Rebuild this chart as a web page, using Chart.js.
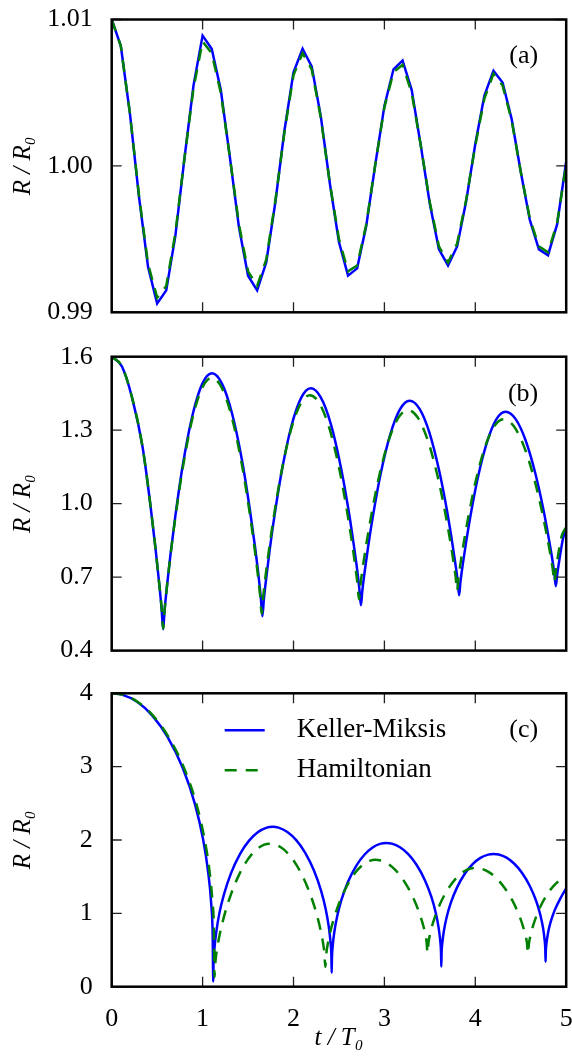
<!DOCTYPE html>
<html>
<head>
<meta charset="utf-8">
<script src="https://cdn.jsdelivr.net/npm/chart.js@4.4.1/dist/chart.umd.min.js"></script>
<style>
  html, body { margin: 0; padding: 0; background: #fff; }
  #wrap { position: relative; width: 572px; height: 1057px; }
  .panel { position: absolute; left: 0; width: 572px; }
</style>
</head>
<body>
<div id="wrap">
  <div class="panel" style="top:0px;height:330px"><canvas id="chartA" width="572" height="330"></canvas></div>
  <div class="panel" style="top:330px;height:330px"><canvas id="chartB" width="572" height="330"></canvas></div>
  <div class="panel" style="top:660px;height:397px"><canvas id="chartC" width="572" height="397"></canvas></div>
</div>
<script>
// tick labels
const xTicks = [0, 1, 2, 3, 4, 5];
const yTicksA = [0.99, 1.00, 1.01];
const yTicksB = [0.4, 0.7, 1.0, 1.3, 1.6];
const yTicksC = [0, 1, 2, 3, 4];

// panel (a): t / T0 and R / R0
const tA = [0, 0.1, 0.2, 0.3, 0.4, 0.5, 0.6, 0.7, 0.8, 0.9, 1.0, 1.1, 1.2, 1.3, 1.4, 1.5, 1.6, 1.7, 1.8, 1.9,
            2.0, 2.1, 2.2, 2.3, 2.4, 2.5, 2.6, 2.7, 2.8, 2.9, 3.0, 3.1, 3.2, 3.3, 3.4, 3.5, 3.6, 3.7, 3.8, 3.9,
            4.0, 4.1, 4.2, 4.3, 4.4, 4.5, 4.6, 4.7, 4.8, 4.9, 5.0];
const kmA = [1.0100, 1.0082, 1.0036, 0.9979, 0.9931, 0.9906, 0.9915, 0.9952, 1.0005, 1.0055, 1.0089, 1.0080, 1.0052,
             1.0006, 0.9958, 0.9925, 0.9915, 0.9934, 0.9975, 1.0024, 1.0064, 1.0080, 1.0068, 1.0034, 0.9988, 0.9948,
             0.9925, 0.9930, 0.9959, 1.0001, 1.0041, 1.0066, 1.0072, 1.0052, 1.0014, 0.9974, 0.9943, 0.9932, 0.9945,
             0.9976, 1.0015, 1.0048, 1.0065, 1.0057, 1.0032, 0.9996, 0.9963, 0.9943, 0.9939, 0.9960, 1.0003];
const hamA = [1.0100, 1.0082, 1.0036, 0.9980, 0.9933, 0.9910, 0.9918, 0.9954, 1.0005, 1.0053, 1.0085, 1.0077, 1.0050,
              1.0006, 0.9960, 0.9928, 0.9918, 0.9936, 0.9976, 1.0023, 1.0062, 1.0077, 1.0066, 1.0033, 0.9988, 0.9950,
              0.9928, 0.9932, 0.9960, 1.0001, 1.0040, 1.0064, 1.0069, 1.0050, 1.0014, 0.9975, 0.9945, 0.9934, 0.9947,
              0.9977, 1.0014, 1.0046, 1.0063, 1.0055, 1.0031, 0.9996, 0.9964, 0.9945, 0.9941, 0.9961, 1.0001];

// panel (b)
const tKmB = [0, 0.113, 0.226, 0.34, 0.424, 0.481, 0.521, 0.549, 0.566,
              0.582, 0.609, 0.646, 0.70, 0.78, 0.888, 0.995, 1.102,
              1.213, 1.324, 1.436, 1.519, 1.575, 1.614, 1.641, 1.658,
              1.674, 1.701, 1.738, 1.791, 1.871, 1.977, 2.084, 2.19,
              2.30, 2.411, 2.521, 2.604, 2.659, 2.698, 2.725, 2.742,
              2.758, 2.785, 2.822, 2.876, 2.956, 3.064, 3.171, 3.278,
              3.387, 3.496, 3.604, 3.686, 3.74, 3.778, 3.806, 3.822,
              3.837, 3.863, 3.899, 3.95, 4.026, 4.129, 4.231, 4.333,
              4.444, 4.554, 4.665, 4.748, 4.803, 4.842, 4.869, 4.886,
              4.902, 4.928, 4.965, 5.0];
const kmB = [1.6, 1.56, 1.43, 1.23, 1.00, 0.82, 0.68, 0.57, 0.487,
             0.565, 0.666, 0.790, 0.949, 1.153, 1.360, 1.488, 1.532,
             1.490, 1.368, 1.172, 0.978, 0.828, 0.710, 0.614, 0.540,
             0.609, 0.699, 0.810, 0.951, 1.133, 1.317, 1.432, 1.471,
             1.434, 1.325, 1.149, 0.977, 0.842, 0.737, 0.651, 0.585,
             0.647, 0.728, 0.827, 0.954, 1.117, 1.282, 1.385, 1.420,
             1.387, 1.289, 1.132, 0.977, 0.856, 0.762, 0.685, 0.626,
             0.682, 0.754, 0.843, 0.957, 1.103, 1.251, 1.344, 1.375,
             1.345, 1.258, 1.117, 0.978, 0.869, 0.785, 0.716, 0.663,
             0.713, 0.778, 0.858, 0.90];
const tHamB = [0, 0.113, 0.226, 0.34, 0.424, 0.481, 0.521, 0.549, 0.566,
               0.582, 0.609, 0.646, 0.70, 0.78, 0.886, 0.993, 1.10,
               1.21, 1.32, 1.43, 1.5125, 1.5675, 1.606, 1.6335, 1.65,
               1.666, 1.692, 1.7295, 1.7825, 1.862, 1.968, 2.074, 2.18,
               2.288, 2.396, 2.504, 2.585, 2.639, 2.677, 2.704, 2.72,
               2.736, 2.763, 2.801, 2.855, 2.936, 3.044, 3.152, 3.26,
               3.368, 3.476, 3.584, 3.665, 3.719, 3.757, 3.784, 3.80,
               3.815, 3.841, 3.8765, 3.9275, 4.004, 4.106, 4.208, 4.31,
               4.422, 4.534, 4.646, 4.73, 4.786, 4.8252, 4.853, 4.87,
               4.886, 4.911, 4.948, 5.0];
const hamB = [1.6, 1.56, 1.43, 1.23, 1.00, 0.82, 0.68, 0.575, 0.49,
              0.566, 0.665, 0.787, 0.943, 1.142, 1.345, 1.471, 1.514,
              1.474, 1.355, 1.164, 0.976, 0.830, 0.715, 0.622, 0.55,
              0.617, 0.703, 0.809, 0.945, 1.119, 1.296, 1.405, 1.443,
              1.408, 1.306, 1.141, 0.978, 0.852, 0.752, 0.672, 0.61,
              0.668, 0.742, 0.834, 0.951, 1.102, 1.255, 1.350, 1.382,
              1.351, 1.260, 1.114, 0.971, 0.859, 0.771, 0.700, 0.645,
              0.697, 0.765, 0.848, 0.954, 1.091, 1.230, 1.316, 1.345,
              1.317, 1.235, 1.104, 0.974, 0.873, 0.794, 0.730, 0.68,
              0.727, 0.79, 0.865, 0.905];

// panel (c)
const tKmC = [0, 0.112, 0.279, 0.447, 0.614, 0.782, 0.916, 1.005, 1.061, 1.095, 1.111, 1.117,
              1.120, 1.130, 1.150, 1.182, 1.235, 1.313, 1.411, 1.509, 1.607, 1.705, 1.77,
              1.835, 1.9325, 2.03, 2.1275, 2.225, 2.303, 2.355, 2.3875, 2.407, 2.4168, 2.42,
              2.423, 2.432, 2.45, 2.48, 2.528, 2.60, 2.69, 2.78, 2.87, 2.96, 3.02,
              3.0806, 3.1715, 3.2624, 3.3533, 3.4442, 3.5169, 3.5654, 3.5957, 3.6139, 3.623, 3.626,
              3.6289, 3.6375, 3.6547, 3.6834, 3.7293, 3.7982, 3.8843, 3.9704, 4.0565, 4.1426, 4.2,
              4.2573, 4.3433, 4.4292, 4.5151, 4.6011, 4.6699, 4.7157, 4.7444, 4.7615, 4.7701, 4.773,
              4.7758, 4.7842, 4.801, 4.829, 4.8738, 4.941, 5.0];
const kmC = [4.0, 3.982, 3.884, 3.696, 3.405, 2.981, 2.490, 2.012, 1.564, 1.125, 0.693, 0.07,
             0.308, 0.515, 0.741, 0.986, 1.258, 1.549, 1.808, 1.988, 2.106, 2.168, 2.18,
             2.169, 2.110, 1.999, 1.829, 1.585, 1.310, 1.054, 0.823, 0.609, 0.415, 0.19,
             0.390, 0.563, 0.753, 0.958, 1.187, 1.431, 1.648, 1.799, 1.898, 1.950, 1.96,
             1.951, 1.901, 1.807, 1.663, 1.456, 1.224, 1.006, 0.811, 0.630, 0.465, 0.275,
             0.448, 0.598, 0.763, 0.941, 1.139, 1.351, 1.539, 1.670, 1.756, 1.801, 1.81,
             1.802, 1.759, 1.676, 1.551, 1.370, 1.168, 0.978, 0.808, 0.650, 0.506, 0.34,
             0.481, 0.603, 0.738, 0.883, 1.044, 1.216, 1.34];
const tHamC = [0, 0.113, 0.2825, 0.452, 0.6215, 0.791, 0.9266, 1.017, 1.0735, 1.1074, 1.1244, 1.13,
               1.1422, 1.1605, 1.191, 1.2398, 1.313, 1.4045, 1.496, 1.5875, 1.679, 1.74,
               1.801, 1.8925, 1.984, 2.0755, 2.167, 2.2402, 2.289, 2.3195, 2.3378, 2.35,
               2.361, 2.3775, 2.405, 2.449, 2.515, 2.5975, 2.68, 2.7625, 2.845, 2.9,
               2.9575, 3.0438, 3.13, 3.2163, 3.3025, 3.3715, 3.4175, 3.4463, 3.4635, 3.475,
               3.4855, 3.5013, 3.5275, 3.5695, 3.6325, 3.7113, 3.79, 3.8688, 3.9475, 4.0,
               4.058, 4.145, 4.232, 4.319, 4.406, 4.4756, 4.522, 4.551, 4.5684, 4.58,
               4.5894, 4.6035, 4.627, 4.6646, 4.721, 4.7915, 4.862, 4.9325, 5.0];
const hamC = [4.0, 3.982, 3.885, 3.700, 3.414, 2.997, 2.513, 2.042, 1.601, 1.169, 0.743, 0.13,
              0.358, 0.525, 0.728, 0.976, 1.263, 1.535, 1.733, 1.866, 1.937, 1.95,
              1.938, 1.872, 1.749, 1.567, 1.316, 1.051, 0.822, 0.635, 0.481, 0.27,
              0.453, 0.587, 0.750, 0.949, 1.179, 1.397, 1.556, 1.662, 1.719, 1.73,
              1.721, 1.671, 1.578, 1.440, 1.251, 1.050, 0.877, 0.736, 0.619, 0.46,
              0.605, 0.712, 0.841, 0.999, 1.182, 1.355, 1.481, 1.566, 1.611, 1.62,
              1.611, 1.566, 1.480, 1.353, 1.179, 0.994, 0.834, 0.704, 0.597, 0.45,
              0.582, 0.678, 0.795, 0.938, 1.104, 1.260, 1.375, 1.451, 1.47];

const FONT = '"Liberation Serif", "DejaVu Serif", serif';
const BLUE = '#0000ff';
const GREEN = '#008000';

function pts(t, r) {
    return t.map((x, i) => ({ x: x, y: r[i] }));
}

// frame, inward ticks on all four sides, panel letter, optional legend
const framePlugin = {
    id: 'frame',
    afterDatasetsDraw(chart, args, opts) {
        const ctx = chart.ctx;
        const a = chart.chartArea;
        const xs = chart.scales.x;
        const ys = chart.scales.y;
        ctx.save();
        ctx.strokeStyle = '#222';
        ctx.lineWidth = 1.3;
        const tl = 10;
        xs.ticks.forEach(tk => {
            const px = xs.getPixelForValue(tk.value);
            ctx.beginPath();
            ctx.moveTo(px, a.bottom); ctx.lineTo(px, a.bottom - tl);
            ctx.moveTo(px, a.top); ctx.lineTo(px, a.top + tl);
            ctx.stroke();
        });
        ys.ticks.forEach(tk => {
            const py = ys.getPixelForValue(tk.value);
            ctx.beginPath();
            ctx.moveTo(a.left, py); ctx.lineTo(a.left + tl, py);
            ctx.moveTo(a.right, py); ctx.lineTo(a.right - tl, py);
            ctx.stroke();
        });
        ctx.strokeStyle = '#000';
        ctx.lineWidth = 2.5;
        ctx.strokeRect(a.left, a.top, a.right - a.left, a.bottom - a.top);

        ctx.fillStyle = '#000';
        ctx.font = '26px ' + FONT;
        ctx.textAlign = 'right';
        ctx.textBaseline = 'middle';
        ctx.fillText(opts.label, a.right - 28, a.top + 37);

        if (opts.legend) {
            ctx.textAlign = 'left';
            ctx.font = '27px ' + FONT;
            chart.data.datasets.forEach((ds, i) => {
                const y = a.top + 37 + i * 40;
                ctx.save();
                ctx.strokeStyle = ds.borderColor;
                ctx.lineWidth = ds.borderWidth;
                ctx.setLineDash(ds.borderDash || []);
                ctx.beginPath();
                ctx.moveTo(a.left + 113, y);
                ctx.lineTo(a.left + 153, y);
                ctx.stroke();
                ctx.restore();
                ctx.fillText(ds.label, a.left + 185, y);
            });
        }
        ctx.restore();
    }
};

// stop Chart.js from reserving room for edge labels, so the plot box sits where the padding says
function noEdgePadding(s) {
    s.paddingTop = 0;
    s.paddingBottom = 0;
    s.paddingLeft = 0;
    s.paddingRight = 0;
}

function makeChart(id, cfg) {
    const datasets = [
        {
            label: 'Keller-Miksis',
            data: pts(cfg.tKm, cfg.km),
            borderColor: BLUE,
            borderWidth: 2.5,
            pointRadius: 0,
            order: 1,
            tension: cfg.smooth ? 0.4 : 0,
            cubicInterpolationMode: cfg.smooth ? 'monotone' : 'default'
        },
        {
            label: 'Hamiltonian',
            data: pts(cfg.tHam, cfg.ham),
            borderColor: GREEN,
            borderWidth: 2.5,
            borderDash: [12, 9],
            pointRadius: 0,
            order: 0,
            tension: cfg.smooth ? 0.4 : 0,
            cubicInterpolationMode: cfg.smooth ? 'monotone' : 'default'
        }
    ];

    return new Chart(document.getElementById(id), {
        type: 'line',
        data: { datasets: datasets },
        options: {
            responsive: false,
            animation: false,
            events: [],
            layout: { padding: { left: 0, right: 5.8, top: cfg.padTop, bottom: cfg.padBottom } },
            plugins: {
                legend: { display: false },
                tooltip: { enabled: false },
                frame: { label: cfg.label, legend: cfg.legend }
            },
            scales: {
                x: {
                    type: 'linear',
                    min: 0,
                    max: 5,
                    afterBuildTicks: s => { s.ticks = xTicks.map(v => ({ value: v })); },
                    afterFit: s => { s.height = cfg.xHeight; noEdgePadding(s); },
                    grid: { display: false },
                    border: { display: false },
                    ticks: {
                        display: cfg.xLabels,
                        color: '#000',
                        padding: 9,
                        maxRotation: 0,
                        autoSkip: false,
                        font: { family: FONT, size: 26 }
                    },
                    title: {
                        display: cfg.xLabels,
                        text: 't / T₀',
                        color: '#000',
                        padding: { top: 0, bottom: 4 },
                        font: { family: FONT, size: 25, style: 'italic' }
                    }
                },
                y: {
                    min: cfg.yTicks[0],
                    max: cfg.yTicks[cfg.yTicks.length - 1],
                    afterBuildTicks: s => { s.ticks = cfg.yTicks.map(v => ({ value: v })); },
                    afterFit: s => { s.width = 111.7; noEdgePadding(s); },
                    grid: { display: false },
                    border: { display: false },
                    ticks: {
                        color: '#000',
                        padding: 11,
                        autoSkip: false,
                        font: { family: FONT, size: 26 },
                        callback: v => v.toFixed(cfg.decimals)
                    },
                    title: {
                        display: true,
                        text: 'R / R₀',
                        color: '#000',
                        padding: { top: 8, bottom: 0 },
                        font: { family: FONT, size: 25, style: 'italic' }
                    }
                }
            }
        },
        plugins: [framePlugin]
    });
}

makeChart('chartA', {
    tKm: tA, km: kmA, tHam: tA, ham: hamA, smooth: false,
    yTicks: yTicksA, decimals: 2, label: '(a)', legend: false,
    padTop: 19.5, padBottom: 17.7, xHeight: 0, xLabels: false
});
makeChart('chartB', {
    tKm: tKmB, km: kmB, tHam: tHamB, ham: hamB, smooth: true,
    yTicks: yTicksB, decimals: 1, label: '(b)', legend: false,
    padTop: 26.7, padBottom: 9.4, xHeight: 0, xLabels: false
});
makeChart('chartC', {
    tKm: tKmC, km: kmC, tHam: tHamC, ham: hamC, smooth: true,
    yTicks: yTicksC, decimals: 0, label: '(c)', legend: true,
    padTop: 33.3, padBottom: 0, xHeight: 70.3, xLabels: true
});
</script>
</body>
</html>
